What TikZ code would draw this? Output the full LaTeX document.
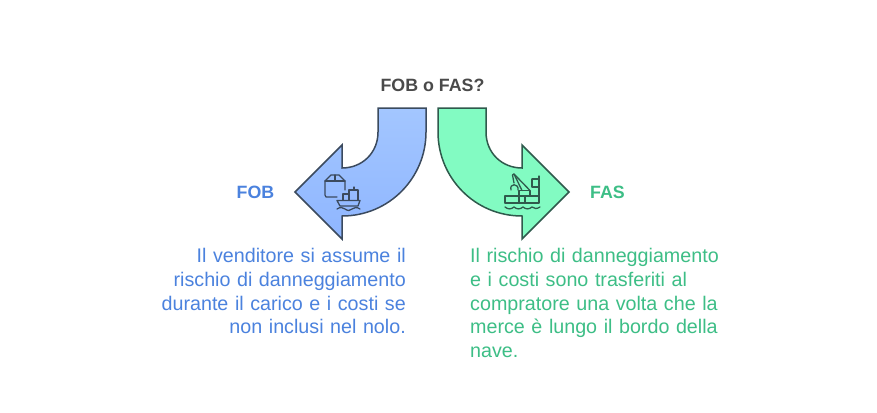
\documentclass[tikz,border=0pt]{standalone}
\usepackage{fontspec}
\setmainfont{Liberation Sans}
\definecolor{fobtext}{HTML}{4B82DE}
\definecolor{fastext}{HTML}{3DBE86}
\definecolor{titletext}{HTML}{4A4A4A}
\definecolor{fobline}{HTML}{3B4A5E}
\definecolor{fasline}{HTML}{2F5A4C}
\definecolor{fobtop}{HTML}{A3C6FF}
\definecolor{fobbot}{HTML}{8FB6FF}
\definecolor{fasfill}{HTML}{82FBC2}
\tikzset{
  x=1pt,y=-1pt,
  arrowshape/.style={line width=1.5pt,line join=miter},
  icon/.style={line width=1.3pt,line join=round,line cap=round,draw=#1},
  heading/.style={font=\fontsize{17.8}{22}\selectfont\bfseries,inner sep=0pt},
  body/.style={font=\fontsize{19.7}{23.8}\selectfont,inner sep=0pt,text width=280pt},
}
\begin{document}
\begin{tikzpicture}
\useasboundingbox (0,0) rectangle (877,412);
\fill[white] (0,0) rectangle (877,412);
\node[heading,text=titletext] (title) at (432.5,85) {FOB o FAS?};
% left arrow
\draw[arrowshape,draw=fobline,top color=fobtop,bottom color=fobbot]
  (378,108) -- (378,132) .. controls (378,153) and (362,168) .. (342,168)
  -- (342,145) -- (295,192) -- (342,239) -- (342,216)
  .. controls (389,216) and (426,178) .. (426,132) -- (426,108) -- cycle;
% right arrow
\draw[arrowshape,draw=fasline,fill=fasfill]
  (486,108) -- (486,132) .. controls (486,153) and (502,168) .. (522,168)
  -- (522,145) -- (569,192) -- (522,239) -- (522,216)
  .. controls (475,216) and (438,178) .. (438,132) -- (438,108) -- cycle;
% box and ship icon (FOB)
\begin{scope}[icon=fobline]
  \draw (337,197) -- (326,197) -- (325,195) -- (325,181) -- (331,175) -- (339,175) -- (345,181) -- (345,190);
  \draw (325,181) -- (345,181) (335,175) -- (335,181);
  \draw (337,200.5) -- (360,200.5) -- (358,206) -- (340,206) -- cycle;
  \draw (343,200) -- (343,194) -- (349,194) -- (349,200);
  \draw (349,194) -- (349,190) -- (358,190) -- (358,200) (354,190) -- (354,187);
  \draw (337,209) .. controls (340,207) and (343,207) .. (345,209) .. controls (348,211) and (350,211) .. (352,209) .. controls (354,207) and (357,207) .. (360,209);
\end{scope}
% crane ship icon (FAS)
\begin{scope}[icon=fasline]
  \draw (505,203) -- (505,196) -- (539,196);
  \draw (505,203) -- (539,203) -- (539,176);
  \draw (519,196) -- (519,203) (525,196) -- (525,203);
  \draw (519,196) -- (519,190.5) -- (530,190.5) -- (530,196);
  \draw (530,190.5) -- (514,174) -- (512.5,175) -- (514,183);
  \draw (514,174) -- (522,190.5);
  \draw (511,190) .. controls (509,183) and (519,183) .. (518,190);
  \draw (532,179) -- (539,179) (532,179) -- (532,187) -- (539,187);
  \draw (505,207) .. controls (508,209.5) and (511,209.5) .. (514,207) .. controls (517,209.5) and (520,209.5) .. (523,207) .. controls (526,209.5) and (529,209.5) .. (532,207) .. controls (534,209) and (537,209) .. (540,207);
\end{scope}
\node[heading,text=fobtext,anchor=west] (fob) at (236.5,192) {FOB};
\node[heading,text=fastext,anchor=west] (fas) at (590,192) {FAS};
\node[body,text=fobtext,align=right,anchor=north east] (fobbody) at (406,248)
  {Il venditore si assume il\\rischio di danneggiamento\\durante il carico e i costi se\\non inclusi nel nolo.};
\node[body,text=fastext,align=left,anchor=north west] (fasbody) at (470,248)
  {Il rischio di danneggiamento\\e i costi sono trasferiti al\\compratore una volta che la\\merce è lungo il bordo della\\nave.};
\end{tikzpicture}
\end{document}
